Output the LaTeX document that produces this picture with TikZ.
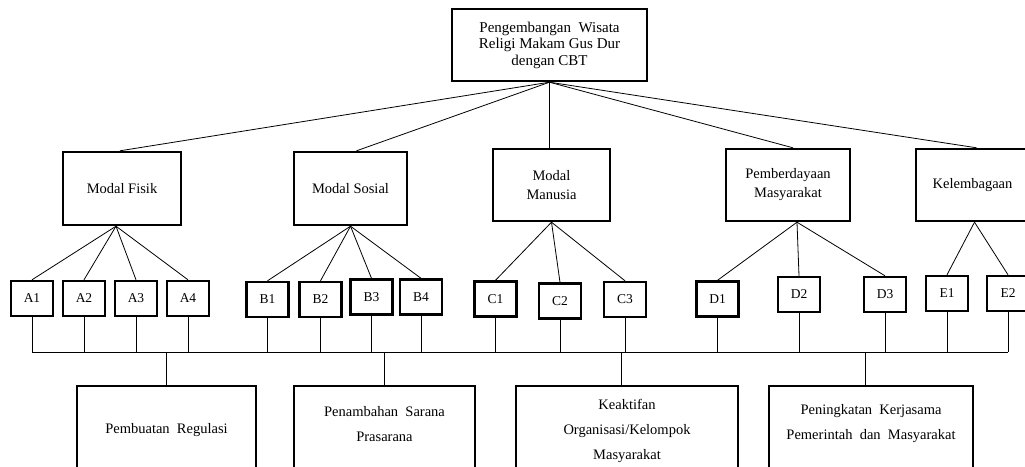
\documentclass[tikz,border=0pt]{standalone}
\usepackage{fontspec}
\setmainfont{Liberation Serif}
\usetikzlibrary{calc}
\begin{document}
\begin{tikzpicture}[x=1pt,y=-1pt,
  box/.style={draw, line width=2.4pt, inner sep=0pt, align=center,
    font=\fontsize{14.5}{19}\selectfont},
  leaf/.style={draw, line width=2.4pt, inner sep=0pt, minimum width=42pt,
    minimum height=35pt, font=\fontsize{13.5}{16}\selectfont},
  lowbox/.style={draw, line width=2.4pt, inner sep=0pt, anchor=north,
    minimum height=120pt},
  lowtext/.style={align=center, inner sep=0pt, font=\fontsize{14.5}{25}\selectfont},
  link/.style={line width=0.8pt}]
\useasboundingbox (0,0) rectangle (1025,466);
\clip (0,0) rectangle (1025,466);
\fill[white] (0,0) rectangle (1025,466);

% root
\node[box, minimum width=195pt, minimum height=72pt,
  font=\fontsize{15}{16.5}\selectfont] (root) at (549.5,45)
  {Pengembangan\ \ Wisata\\Religi Makam Gus Dur\\dengan CBT};

% second level
\node[box, minimum width=118pt, minimum height=73pt] (mf) at (122,188.5) {Modal Fisik};
\node[box, minimum width=113pt, minimum height=73pt] (ms) at (350.5,188.5) {Modal Sosial};
\node[box, minimum width=117pt, minimum height=72pt] (mm) at (551.5,185) {Modal\\Manusia};
\node[box, minimum width=124pt, minimum height=72pt] (pm) at (788,185) {Pemberdayaan\\Masyarakat};
\node[box, minimum width=113pt, minimum height=72pt] (kl) at (972.5,185) {Kelembagaan};

% indicators
\node[leaf] (a1) at (32,298.5) {A1};
\node[leaf] (a2) at (84,298.5) {A2};
\node[leaf] (a3) at (136,298.5) {A3};
\node[leaf] (a4) at (188,298.5) {A4};
\node[leaf] (b1) at (267.5,299.5) {B1};
\node[leaf] (b2) at (320.5,299.5) {B2};
\node[leaf] (b3) at (371.5,297) {B3};
\node[leaf] (b4) at (421,297) {B4};
\node[leaf] (c1) at (495.5,299) {C1};
\node[leaf] (c2) at (560,301) {C2};
\node[leaf] (c3) at (625,299.5) {C3};
\node[leaf] (d1) at (717.5,299) {D1};
\node[leaf] (d2) at (799,294.5) {D2};
\node[leaf] (d3) at (885,294.5) {D3};
\node[leaf] (e1) at (947,293.5) {E1};
\node[leaf] (e2) at (1008,293.5) {E2};

% strategies
\node[lowbox, minimum width=179pt] (r1) at (166.5,385) {};
\node[lowbox, minimum width=181pt] (r2) at (384.5,385) {};
\node[lowbox, minimum width=222pt] (r3) at (627,385) {};
\node[lowbox, minimum width=204pt] (r4) at (871,385) {};
\node[lowtext] (t1) at ($(r1.north)+(0,45)$) {Pembuatan\ \ Regulasi};
\node[lowtext] (t2) at ($(r2.north)+(0,39)$) {Penambahan\ \ Sarana\\Prasarana};
\node[lowtext] (t3) at ($(r3.north)+(0,46)$) {Keaktifan\\Organisasi/Kelompok\\Masyarakat};
\node[lowtext] (t4) at ($(r4.north)+(0,39)$) {Peningkatan\ \ Kerjasama\\Pemerintah\ \ dan\ \ Masyarakat};

% root to second level
\draw[link] (root.south) -- ([xshift=-2pt]mf.north);
\draw[link] (root.south) -- ([xshift=6pt]ms.north);
\draw[link] (root.south) -- (root.south |- mm.north);
\draw[link] (root.south) -- ([xshift=5pt]pm.north);
\draw[link] (root.south) -- ([xshift=4pt]kl.north);

% second level to indicators
\coordinate (mfb) at ([xshift=-6pt]mf.south);
\coordinate (msb) at (ms.south);
\coordinate (mmb) at (mm.south);
\coordinate (pmb) at ([xshift=9pt]pm.south);
\coordinate (klb) at ([xshift=2pt]kl.south);
\foreach \n in {a1,a2,a3,a4} \draw[link] (mfb) -- (\n.north);
\foreach \n in {b1,b2,b3,b4} \draw[link] (msb) -- (\n.north);
\foreach \n in {c1,c2,c3} \draw[link] (mmb) -- (\n.north);
\foreach \n in {d1,d2,d3} \draw[link] (pmb) -- (\n.north);
\foreach \n in {e1,e2} \draw[link] (klb) -- (\n.north);

% collecting line
\coordinate (bus) at (0,352);
\draw[link] (a1.south |- bus) -- (e2.south |- bus);
\foreach \n in {a1,a2,a3,a4,b1,b2,b3,b4,c1,c2,c3,d1,d2,d3,e1,e2}
  \draw[link] (\n.south) -- (\n.south |- bus);

% collecting line to strategies
\draw[link] (r1.north) -- (r1.north |- bus);
\draw[link] (r2.north) -- (r2.north |- bus);
\draw[link] ([xshift=-6pt]r3.north) -- ([xshift=-6pt]r3.north |- bus);
\draw[link] ([xshift=-6pt]r4.north) -- ([xshift=-6pt]r4.north |- bus);
\end{tikzpicture}
\end{document}
